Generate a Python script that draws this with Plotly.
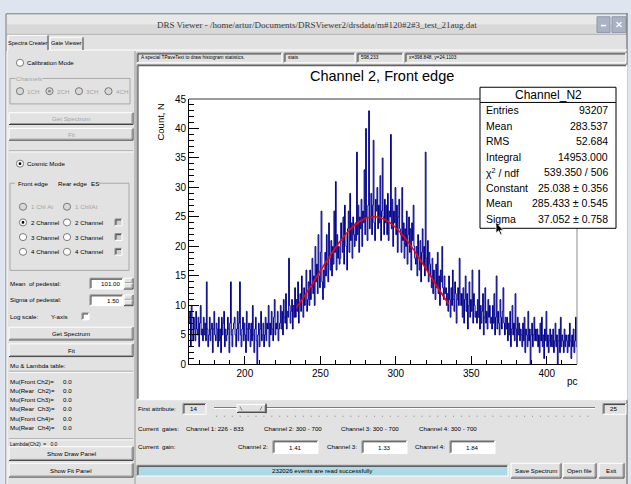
import plotly.graph_objects as go

W, H = 631, 484

# ------------------------------------------------------------------ data
bin_start = 163.0
bin_width = 0.5
counts = [
    7, 9, 3, 10, 5, 4, 8, 6, 4, 9, 6, 5, 8, 3, 7, 10, 5, 6, 4, 8,
    5, 7, 4, 14, 6, 3, 5, 8, 4, 6, 7, 2, 6, 9, 5, 4, 7, 6, 3, 8,
    4, 6, 2, 8, 5, 7, 9, 3, 6, 4, 5, 8, 6, 2, 7, 14, 5, 3, 6, 7,
    8, 5, 3, 6, 9, 4, 7, 14, 5, 3, 6, 8, 4, 7, 5, 2, 9, 6, 4, 7,
    6, 3, 7, 4, 10, 5, 2, 6, 8, 4, 0, 5, 7, 3, 6, 9, 4, 5, 7, 3,
    5, 8, 4, 7, 6, 10, 3, 7, 5, 9, 6, 4, 8, 11, 5, 7, 6, 9, 4, 6,
    7, 10, 6, 9, 5, 11, 8, 7, 12, 6, 9, 8, 18, 10, 7, 9, 11, 6, 10, 8,
    13, 8, 11, 9, 14, 7, 10, 12, 9, 15, 11, 8, 13, 10, 12, 16, 9, 11, 14, 10,
    16, 11, 13, 18, 12, 15, 10, 20, 14, 17, 12, 22, 15, 13, 19, 26, 14, 11, 16, 13,
    19, 15, 22, 17, 14, 24, 18, 16, 21, 15, 20, 17, 26, 19, 31, 16, 22, 18, 20, 17,
    18, 24, 21, 19, 25, 17, 27, 22, 20, 16, 23, 26, 19, 29, 21, 24, 18, 25, 22, 20,
    24, 21, 36, 22, 27, 19, 25, 23, 28, 20, 26, 24, 33, 22, 40, 25, 21, 27, 43, 23,
    25, 29, 22, 27, 38, 24, 21, 28, 26, 30, 23, 27, 24, 32, 21, 26, 35, 25, 22, 28,
    24, 27, 22, 29, 21, 26, 25, 39, 23, 28, 20, 26, 24, 30, 22, 27, 19, 25, 28, 23,
    22, 19, 30, 21, 24, 18, 23, 20, 26, 17, 22, 25, 19, 23, 16, 24, 21, 27, 20, 18,
    17, 20, 15, 22, 18, 16, 21, 14, 19, 23, 17, 20, 15, 36, 18, 16, 21, 14, 19, 17,
    15, 13, 18, 12, 16, 14, 11, 17, 13, 19, 12, 15, 10, 16, 14, 20, 13, 11, 15, 12,
    13, 10, 12, 9, 15, 11, 8, 13, 10, 16, 11, 9, 14, 12, 7, 11, 13, 10, 18, 12,
    10, 12, 8, 13, 7, 11, 15, 9, 12, 6, 10, 14, 8, 11, 9, 16, 7, 12, 10, 8,
    9, 7, 11, 8, 16, 6, 10, 7, 9, 12, 5, 8, 13, 7, 9, 6, 11, 8, 10, 7,
    8, 6, 10, 7, 12, 5, 8, 15, 6, 9, 7, 5, 11, 8, 6, 9, 13, 7, 5, 8,
    6, 8, 4, 7, 5, 9, 3, 6, 10, 5, 7, 4, 12, 6, 3, 8, 5, 7, 4, 6,
    5, 3, 7, 4, 8, 2, 6, 5, 3, 9, 4, 6, 0, 5, 7, 3, 5, 8, 4, 6,
    4, 6, 3, 5, 2, 7, 4, 8, 3, 5, 1, 6, 4, 9, 3, 5, 2, 4, 6, 3,
    5, 3, 6, 2, 4, 7, 3, 5, 0, 4, 6, 2, 8, 3, 5, 4, 2, 6, 3, 5,
    4, 2, 5, 3, 7, 4, 1, 5, 3, 6, 2, 4, 8, 3,
]
fit_x = [234, 240, 245, 250, 255, 260, 265, 270, 275, 280, 285,
         290, 295, 300, 305, 310, 315, 320, 325, 330, 335]
fit_y = [9.55, 11.81, 13.80, 15.85, 17.87, 19.78, 21.51, 22.96, 24.06, 24.77, 25.04,
         24.85, 24.22, 23.18, 21.78, 20.10, 18.21, 16.20, 14.16, 12.15, 10.23]
x_range = [163, 420]
y_range = [0, 45]
x_ticks = [200, 250, 300, 350, 400]
x_ticklabels = ["200", "250", "300", "350", "400"]
y_ticks = [0, 5, 10, 15, 20, 25, 30, 35, 40, 45]
y_ticklabels = ["0", "5", "10", "15", "20", "25", "30", "35", "40", "45"]
x_minor = list(range(170, 421, 10))
y_minor = list(range(0, 46, 1))

plot_title = "Channel 2, Front edge"
y_title = "Count, N"
x_title = "pc"
stats_name = "Channel_N2"
stats_labels = ["Entries", "Mean", "RMS", "Integral", "χ<sup>2</sup> / ndf",
                "Constant", "Mean", "Sigma"]
stats_values = ["93207", "283.537", "52.684", "14953.000", "539.350 / 506",
                "25.038 ± 0.356", "285.433 ± 0.545", "37.052 ± 0.758"]

window_title = "DRS Viewer - /home/artur/Documents/DRSViewer2/drsdata/m#120#2#3_test_21aug.dat"
status_fields = ["A special TPaveText to draw histogram statistics.", "stats",
                 "598,233", "x=398.848, y=24.1103"]
mu_rows = ["Mu(Front Ch2)=", "Mu(Rear  Ch2)=", "Mu(Front Ch3)=",
           "Mu(Rear  Ch3)=", "Mu(Front Ch4)=", "Mu(Rear  Ch4)="]
mu_vals = ["0.0", "0.0", "0.0", "0.0", "0.0", "0.0"]
gates = ["Channel 1: 226 - 833", "Channel 2: 300 - 700",
         "Channel 3: 300 - 700", "Channel 4: 300 - 700"]
gain_labels = ["Channel 2:", "Channel 3:", "Channel 4:"]
gain_vals = ["1.41", "1.33", "1.84"]

# ------------------------------------------------------------------ helpers
SANS = "Liberation Sans"
SERIF = "Liberation Serif"
BG = "#dfe5ee"
PANEL = "#e2e2e2"
GTXT = "#a4a4a4"
GUI = 6.2

shapes, anns = [], []


def X(x):
    return x / W


def Y(y):
    return 1 - y / H


def rect(x0, y0, x1, y1, fill=None, color=None, lw=1, layer="below"):
    shapes.append(dict(type="rect", xref="paper", yref="paper",
                       x0=X(x0), x1=X(x1), y0=Y(y1), y1=Y(y0),
                       fillcolor=fill if fill else "rgba(0,0,0,0)",
                       line=dict(color=color if color else "rgba(0,0,0,0)",
                                 width=lw if color else 0),
                       layer=layer))


def seg(x0, y0, x1, y1, color, lw=1, layer="below"):
    shapes.append(dict(type="line", xref="paper", yref="paper",
                       x0=X(x0), x1=X(x1), y0=Y(y0), y1=Y(y1),
                       line=dict(color=color, width=lw), layer=layer))


def circ(cx, cy, r, fill, color, lw=1):
    shapes.append(dict(type="circle", xref="paper", yref="paper",
                       x0=X(cx - r), x1=X(cx + r), y0=Y(cy + r), y1=Y(cy - r),
                       fillcolor=fill, line=dict(color=color, width=lw), layer="below"))


def txt(x, y, s, size=GUI, color="#000", anchor="left", family=SANS, angle=0, bg=None):
    d = dict(xref="paper", yref="paper", x=X(x), y=Y(y), text=s, showarrow=False,
             xanchor=anchor, yanchor="middle", textangle=angle, borderpad=0,
             font=dict(size=size, color=color, family=family))
    if bg:
        d["bgcolor"] = bg
    anns.append(d)


def raised(x0, y0, x1, y1, label=None, color="#000", fill=PANEL):
    rect(x0, y0, x1, y1, fill=fill)
    seg(x0, y0, x1, y0, "#ffffff")
    seg(x0, y0, x0, y1, "#ffffff")
    seg(x0, y1, x1, y1, "#3c3c3c")
    seg(x1, y0, x1, y1, "#3c3c3c")
    seg(x0 + 1, y1 - 1, x1 - 1, y1 - 1, "#9a9a9a")
    seg(x1 - 1, y0 + 1, x1 - 1, y1 - 1, "#9a9a9a")
    if label:
        txt((x0 + x1) / 2, (y0 + y1) / 2, label, color=color, anchor="center")


def sunken(x0, y0, x1, y1, fill="#ffffff"):
    rect(x0, y0, x1, y1, fill=fill)
    seg(x0, y0, x1, y0, "#8a8a8a")
    seg(x0, y0, x0, y1, "#8a8a8a")
    seg(x0 + 1, y0 + 1, x1 - 1, y0 + 1, "#404040")
    seg(x0 + 1, y0 + 1, x0 + 1, y1 - 1, "#404040")
    seg(x0, y1, x1, y1, "#ffffff")
    seg(x1, y0, x1, y1, "#ffffff")


def radio(cx, cy, on=False, disabled=False):
    circ(cx, cy, 3.6, "#d8d8d8" if disabled else "#ffffff", "#7a7a7a")
    if on:
        circ(cx, cy, 1.4, "#8a8a8a" if disabled else "#000000", "rgba(0,0,0,0)", 0)


def check(x0, y0, disabled=False):
    sunken(x0, y0, x0 + 7, y0 + 7, fill="#d0d0d0" if disabled else "#ffffff")


def etched_h(x0, x1, y):
    seg(x0, y, x1, y, "#9a9a9a")
    seg(x0, y + 1, x1, y + 1, "#ffffff")


# ------------------------------------------------------------------ window chrome
rect(6, 9, 628, 490, fill=PANEL)
seg(6, 9, 628, 9, "#71806f")
rect(7, 10, 627, 20, fill="#e8e8e8")
rect(7, 20, 627, 30, fill="#d8d8d8")
seg(7, 30, 627, 30, "#b4b4b4")
txt(317, 20, window_title, size=9, color="#3a3a3a", anchor="center", family=SERIF)
rect(597, 12, 610, 28, fill="#aab3c4", color="#8e98aa")
rect(612, 12, 626, 28, fill="#aab3c4", color="#8e98aa")
seg(601, 21, 606, 21, "#ffffff", lw=1.5)
seg(616.5, 17.5, 621.5, 22.5, "#ffffff", lw=1.3)
seg(616.5, 22.5, 621.5, 17.5, "#ffffff", lw=1.3)
seg(6, 9, 6, 490, "#7b7b7b")
seg(627, 9, 627, 490, "#5a5a5a")

# tabs
seg(7, 46, 627, 46, "#ffffff")
rect(8, 31, 48, 47, fill=PANEL)
seg(8, 31, 48, 31, "#ffffff")
seg(8, 31, 8, 46, "#ffffff")
seg(48, 31, 48, 46, "#3c3c3c")
txt(28, 38.5, "Spectra Creater", size=5.6, anchor="center")
seg(50, 33, 83, 33, "#ffffff")
seg(50, 33, 50, 46, "#ffffff")
seg(83, 33, 83, 46, "#3c3c3c")
txt(66.5, 39, "Gate Viewer", size=5.6, anchor="center")
seg(7, 47, 7, 490, "#ffffff")

# ------------------------------------------------------------------ left panel
radio(20, 59)
txt(26, 59, "Calibration Mode")

rect(10, 75, 130, 101, color="#a8a8a8")
txt(15, 75, "Channels", color=GTXT, bg=PANEL)
for i, lab in enumerate(["1CH", "2CH", "3CH", "4CH"]):
    cx = 20 + i * 29.5
    radio(cx, 88, on=(i == 1), disabled=True)
    txt(cx + 6, 88, lab, color=GTXT)

raised(9, 110, 133, 122, "Get Spectrum", color=GTXT)
raised(9, 126, 133, 138, "Fit", color=GTXT)
etched_h(9, 133, 149)

radio(20, 162)
circ(20, 162, 1.4, "#000000", "rgba(0,0,0,0)", 0)
txt(26, 162, "Cosmic Mode")

rect(10, 182, 129, 271, color="#a8a8a8")
rect(15, 179, 99, 185, fill=PANEL)
txt(17, 182, "Front edge")
txt(57, 182, "Rear edge")
txt(90, 182, "ES")

radio(23, 206, disabled=True)
txt(30, 206, "1 ChI At", color=GTXT)
radio(67, 206, disabled=True)
txt(74, 206, "1 ChIIAt", color=GTXT)
for j, (yy, nm) in enumerate([(222, "2 Channel"), (237, "3 Channel"), (252, "4 Channel")]):
    radio(23, yy, on=(j == 0))
    txt(30, yy, nm)
    radio(67, yy)
    txt(74, yy, nm)
    check(115, yy - 3.5, disabled=True)

txt(9, 284, "Mean  of pedestal:")
sunken(90, 279, 123, 290)
txt(121, 284.5, "101.00", anchor="right")
raised(124, 279, 133, 284.5)
raised(124, 284.5, 133, 290)
txt(9, 301, "Sigma of pedestal:")
sunken(90, 296, 123, 307)
txt(121, 301.5, "1.50", anchor="right")
raised(124, 296, 133, 301.5)
raised(124, 301.5, 133, 307)
txt(9, 318, "Log scale:")
txt(50, 318, "Y-axis")
check(82, 314.5)

raised(9, 329, 133, 342, "Get Spectrum")
raised(9, 346, 133, 359, "Fit")
txt(9, 368, "Mu & Lambda table:")
etched_h(9, 133, 374)
for k, (lab, val) in enumerate(zip(mu_rows, mu_vals)):
    yy = 384 + k * 9.5
    txt(9, yy, lab)
    txt(62, yy, val)
etched_h(9, 133, 443)
txt(9, 448.5, "Lambda(Ch2)  =   0.0", size=5)
raised(9, 451, 133, 465, "Show Draw Panel")
raised(9, 468, 133, 482, "Show Fit Panel")
seg(135, 47, 135, 490, "#9a9a9a")

# ------------------------------------------------------------------ main panel
field_x = [(137, 282), (284, 355), (357, 403), (405, 626)]
for (a, b), s in zip(field_x, status_fields):
    sunken(a, 49, b, 59, fill=PANEL)
    txt(a + 3, 54, s, size=4.8)

sunken(137, 61, 627, 403)

# bottom controls
txt(137, 412, "First attribute:")
sunken(183, 407, 206, 418, fill=PANEL)
txt(189, 412.5, "14")
seg(214, 411, 595, 411, "#7a7a7a")
seg(214, 412, 595, 412, "#ffffff")
raised(237, 408, 266, 416)
seg(240, 410, 242, 414, "#888888")
seg(262, 410, 260, 414, "#888888")
seg(266, 407, 266, 417, "#3c3c3c")
for k in range(48):
    xx = 216 + k * 7.9
    rect(xx, 419.5, xx + 1, 420.5, fill="#8a8a8a")
sunken(603, 407, 626, 418, fill=PANEL)
txt(609, 412.5, "25")

txt(137, 432, "Current  gates:")
for gx, s in zip([185, 263, 340, 418], gates):
    txt(gx, 432, s)

txt(137, 451, "Current  gain:")
for lx, bx, lab, val in zip([237, 326, 414], [273, 362, 450], gain_labels, gain_vals):
    txt(lx, 451, lab)
    sunken(bx, 445, bx + 45, 458)
    txt(bx + 22.5, 452, val, anchor="center")

sunken(137, 470, 508, 481, fill="#add8e6")
txt(322, 475.5, "232026 events are read successfully", anchor="center")
raised(511, 468, 561, 483, "Save Spectrum")
raised(563, 468, 596, 483, "Open file")
raised(599, 468, 624, 483, "Exit")

# ------------------------------------------------------------------ plot
px0, px1, py0, py1 = 189, 577, 96, 367
fig = go.Figure()
edges = [bin_start + i * bin_width for i in range(len(counts) + 1)]
fig.add_trace(go.Scatter(x=edges, y=counts + [counts[-1]], mode="lines",
                         line=dict(color="#00008a", width=1, shape="hv"),
                         hoverinfo="skip", showlegend=False))
fig.add_trace(go.Scatter(x=fit_x, y=fit_y, mode="lines",
                         line=dict(color="#ff0000", width=1.6, shape="spline"),
                         hoverinfo="skip", showlegend=False))

# frame top / right
seg(px0, py0, px1, py0, "#9a9a9a", lw=2, layer="above")
seg(px1, py0, px1, py1, "#8a8a8a", lw=1, layer="above")

# stats box
sx0, sy0, sx1, sy1 = 480, 84, 616, 228
rect(sx0, sy0, sx1, sy1, fill="#ffffff", color="#000000", lw=1, layer="above")
seg(sx0, 99.5, sx1, 99.5, "#000000", layer="above")
txt((sx0 + sx1) / 2, 91.5, stats_name, size=12, anchor="center")
for k, (lab, val) in enumerate(zip(stats_labels, stats_values)):
    yy = 107.5 + k * 15.8
    txt(sx0 + 5, yy, lab, size=10.5)
    txt(sx1 - 7, yy, val, size=10.5, anchor="right")

# mouse pointer
cx, cy = 496, 222
path = "M {} {} L {} {} L {} {} L {} {} L {} {} L {} {} L {} {} Z".format(
    X(cx), Y(cy), X(cx), Y(cy + 11), X(cx + 2.6), Y(cy + 8.5), X(cx + 4.5), Y(cy + 12.5),
    X(cx + 6), Y(cy + 11.8), X(cx + 4.2), Y(cy + 8), X(cx + 7.5), Y(cy + 8))
shapes.append(dict(type="path", xref="paper", yref="paper", path=path,
                   fillcolor="#000000", line=dict(color="#ffffff", width=0.8), layer="above"))

txt(382, 73, plot_title, size=14.5, anchor="center")
txt(161, 119, y_title, size=9.5, anchor="center", angle=-90)
txt(572, 384, x_title, size=10, anchor="center")

axis_font = dict(size=10, family=SANS, color="#000000")
fig.update_layout(
    width=W, height=H, autosize=False,
    margin=dict(l=0, r=0, t=0, b=0),
    paper_bgcolor=BG, plot_bgcolor="rgba(0,0,0,0)",
    showlegend=False,
    shapes=shapes, annotations=anns,
    xaxis=dict(domain=[X(px0), X(px1)], range=x_range, showline=True, linecolor="#000000",
               linewidth=1, ticks="inside", ticklen=8, tickcolor="#000000",
               tickvals=x_ticks, ticktext=x_ticklabels, tickfont=axis_font,
               showgrid=False, zeroline=False, fixedrange=True,
               minor=dict(ticks="inside", ticklen=4, tickvals=x_minor, tickcolor="#000000",
                          showgrid=False)),
    yaxis=dict(domain=[Y(py1), Y(py0)], range=y_range, showline=True, linecolor="#000000",
               linewidth=1, ticks="inside", ticklen=10, tickcolor="#000000",
               tickvals=y_ticks, ticktext=y_ticklabels, tickfont=axis_font,
               showgrid=False, zeroline=False, fixedrange=True,
               minor=dict(ticks="inside", ticklen=5, tickvals=y_minor, tickcolor="#000000",
                          showgrid=False)),
)

fig.write_html(
    "out.html",
    config={"displayModeBar": False},
    post_script="document.body.style.margin='0px';document.body.style.overflow='hidden';"
                "document.body.style.background='" + BG + "';",
)
